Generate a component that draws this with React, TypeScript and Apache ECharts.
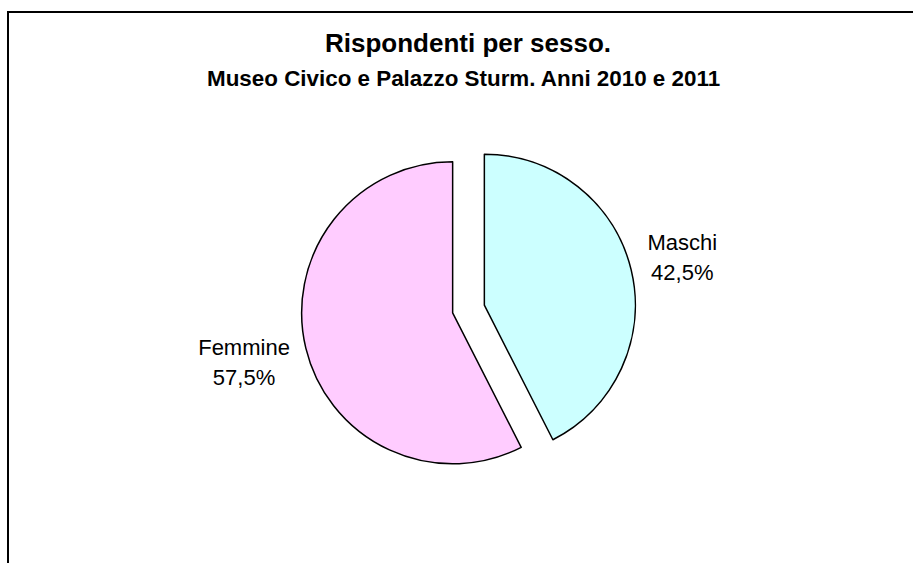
import React, { useEffect, useRef } from "react";
import * as echarts from "echarts";

const categories = ["Maschi", "Femmine"];
const values = [42.5, 57.5];
const sliceColors = ["#CCFFFF", "#FFCCFF"];
const titleText = "Rispondenti per sesso.";
const subtitleText = "Museo Civico e Palazzo Sturm. Anni 2010 e 2011";

const FONT = "'Liberation Sans', Arial, Helvetica, sans-serif";
const LABEL_SIZE = 22;
const CX = 468.5;
const CY = 309;
const R = 151;
const GAP = 34;

function measure(text: string, font: string): number {
  const c = document.createElement("canvas").getContext("2d");
  if (!c) return text.length * 10;
  c.font = font;
  return c.measureText(text).width;
}

export default function App() {
  const ref = useRef<HTMLDivElement>(null);

  useEffect(() => {
    if (!ref.current) return;
    const chart = echarts.init(ref.current, null, { renderer: "svg" });
    const total = values.reduce((a, b) => a + b, 0);
    const labelFont = `${LABEL_SIZE}px ${FONT}`;

    let acc = 0;
    const labelTexts = categories.map((name, i) => {
      const mid = ((acc + values[i] / 2) / total) * Math.PI * 2;
      acc += values[i];
      const pct = values[i].toFixed(1).replace(".", ",") + "%";
      const w = Math.max(measure(name, labelFont), measure(pct, labelFont));
      const d = R + GAP + w / 2;
      return {
        type: "text",
        silent: true,
        x: CX + Math.sin(mid) * d,
        y: CY - Math.cos(mid) * d,
        style: {
          text: name + "\n" + pct,
          fill: "#000",
          font: labelFont,
          fontFamily: FONT,
          fontSize: LABEL_SIZE,
          lineHeight: 30,
          align: "center",
          verticalAlign: "middle",
          textAlign: "center",
          textVerticalAlign: "middle",
        },
      };
    });

    chart.setOption({
      animation: false,
      backgroundColor: "#ffffff",
      title: [
        {
          text: titleText,
          left: 325,
          top: 30,
          padding: 0,
          textStyle: { fontFamily: FONT, fontSize: 26, fontWeight: "bold", color: "#000" },
        },
        {
          text: subtitleText,
          left: 207,
          top: 67,
          padding: 0,
          textStyle: { fontFamily: FONT, fontSize: 22.4, fontWeight: "bold", color: "#000" },
        },
      ],
      graphic: [
        {
          type: "rect",
          silent: true,
          shape: { x: 8, y: 12, width: 1200, height: 1000 },
          style: { fill: "none", stroke: "#000", lineWidth: 2 },
        },
        ...labelTexts,
      ],
      series: [
        {
          type: "pie",
          center: [CX, CY],
          radius: R,
          startAngle: 90,
          clockwise: true,
          selectedMode: "multiple",
          selectedOffset: 16.3,
          itemStyle: { borderColor: "#000", borderWidth: 1.5 },
          emphasis: { disabled: true },
          label: { show: false },
          labelLine: { show: false },
          data: categories.map((name, i) => ({
            name,
            value: values[i],
            selected: true,
            itemStyle: { color: sliceColors[i] },
          })),
        },
      ],
    });

    return () => chart.dispose();
  }, []);

  return (
    <div
      ref={ref}
      style={{ position: "fixed", left: 0, top: 0, width: 913, height: 563 }}
    />
  );
}
